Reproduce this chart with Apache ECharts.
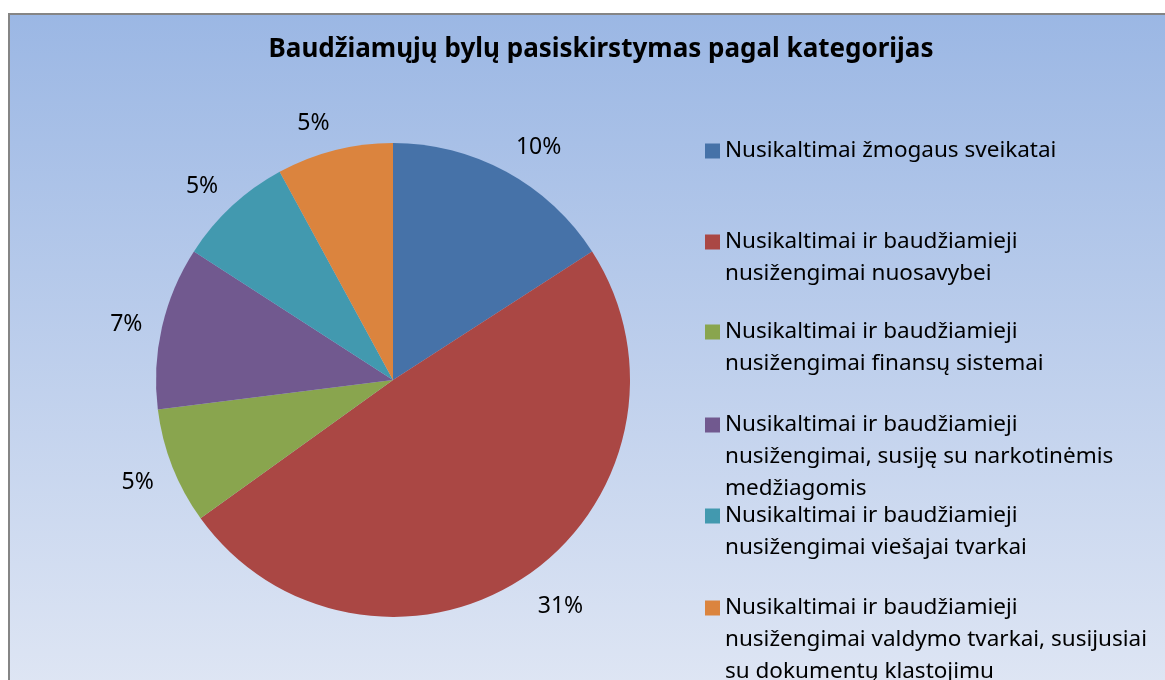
<!DOCTYPE html>
<html style="height: 100%">
    <head>
        <meta charset="utf-8">
        <script type="text/javascript" src="https://cdn.jsdelivr.net/npm/echarts@6/dist/echarts.min.js"></script>
    </head>
    <body style="height: 100%; margin: 0; background: #fff">
        <div id="main" style="width: 1165px; height: 680px"></div>
        <script type="text/javascript">
            var titleText = 'Baudžiamųjų bylų pasiskirstymas pagal kategorijas';
            var categories = [
                'Nusikaltimai žmogaus sveikatai',
                'Nusikaltimai ir baudžiamieji nusižengimai nuosavybei',
                'Nusikaltimai ir baudžiamieji nusižengimai finansų sistemai',
                'Nusikaltimai ir baudžiamieji nusižengimai, susiję su narkotinėmis medžiagomis',
                'Nusikaltimai ir baudžiamieji nusižengimai viešajai tvarkai',
                'Nusikaltimai ir baudžiamieji nusižengimai valdymo tvarkai, susijusiai su dokumentų klastojimu'
            ];
            // how the legend wraps each category
            var legendLines = [
                ['Nusikaltimai žmogaus sveikatai'],
                ['Nusikaltimai ir baudžiamieji', 'nusižengimai nuosavybei'],
                ['Nusikaltimai ir baudžiamieji', 'nusižengimai finansų sistemai'],
                ['Nusikaltimai ir baudžiamieji', 'nusižengimai, susiję su narkotinėmis', 'medžiagomis'],
                ['Nusikaltimai ir baudžiamieji', 'nusižengimai viešajai tvarkai'],
                ['Nusikaltimai ir baudžiamieji', 'nusižengimai valdymo tvarkai, susijusiai', 'su dokumentų klastojimu']
            ];
            var values = [10, 31, 5, 7, 5, 5];
            var colors = ['#4672A8', '#AA4744', '#89A54E', '#71598F', '#4299AF', '#DB843E'];

            var cx = 393, cy = 380, r = 237, labelR = 257;
            var total = values.reduce(function (a, b) { return a + b; }, 0);
            var cum = [];
            var acc = 0;
            for (let i = 0; i < values.length; i++) {
                cum.push(acc);
                acc += values[i];
            }

            var lineH = 32;
            var legendIconY = [151, 242, 332, 425, 516, 608];
            var legends = [];
            for (let i = 0; i < categories.length; i++) {
                var n = legendLines[i].length;
                legends.push({
                    orient: 'vertical',
                    left: 705,
                    top: legendIconY[i] - (2 * n - 1) * lineH / 2,
                    padding: 0,
                    itemWidth: 15,
                    itemHeight: 15,
                    itemGap: 0,
                    icon: 'rect',
                    selectedMode: false,
                    data: [categories[i]],
                    formatter: function (name) {
                        var lines = legendLines[categories.indexOf(name)];
                        // blank lines on top so the icon sits beside the first line
                        var pad = [];
                        for (let k = 1; k < lines.length; k++) pad.push(' ');
                        return pad.concat(lines).join('\n');
                    },
                    textStyle: {
                        fontFamily: 'Noto Sans',
                        fontSize: 22.5,
                        color: '#000',
                        lineHeight: lineH
                    }
                });
            }

            var myChart = echarts.init(document.getElementById('main'));
            myChart.setOption({
                animation: false,
                color: colors,
                graphic: [{
                    type: 'rect',
                    z: -10,
                    shape: { x: 9, y: 14, width: 1170, height: 680 },
                    style: {
                        fill: new echarts.graphic.LinearGradient(0, 0, 0, 1, [
                            { offset: 0, color: '#9BB7E4' },
                            { offset: 1, color: '#DFE6F4' }
                        ]),
                        stroke: '#858585',
                        lineWidth: 2
                    }
                }],
                title: {
                    text: titleText,
                    left: 596,
                    textAlign: 'center',
                    top: 32,
                    textStyle: {
                        fontFamily: 'Noto Sans',
                        fontSize: 26,
                        fontWeight: 'bold',
                        color: '#000'
                    }
                },
                legend: legends,
                series: [{
                    type: 'pie',
                    center: [cx, cy],
                    radius: r,
                    startAngle: 90,
                    clockwise: true,
                    silent: true,
                    itemStyle: { borderWidth: 0 },
                    label: {
                        show: true,
                        position: 'outside',
                        formatter: '{c}%',
                        fontFamily: 'Noto Sans',
                        fontSize: 23,
                        color: '#000'
                    },
                    labelLine: { show: false },
                    // label edge nearest the pie sits on a ring just outside it
                    labelLayout: function (p) {
                        var i = p.dataIndex;
                        var mid = (cum[i] + values[i] / 2) / total * Math.PI * 2;
                        var dx = Math.sin(mid), dy = -Math.cos(mid);
                        return {
                            x: cx + labelR * dx,
                            y: cy + labelR * dy + dy * 12 + 4,
                            align: dx >= 0 ? 'left' : 'right',
                            verticalAlign: 'middle'
                        };
                    },
                    data: categories.map(function (c, i) {
                        return { name: c, value: values[i] };
                    })
                }]
            });
        </script>
    </body>
</html>
